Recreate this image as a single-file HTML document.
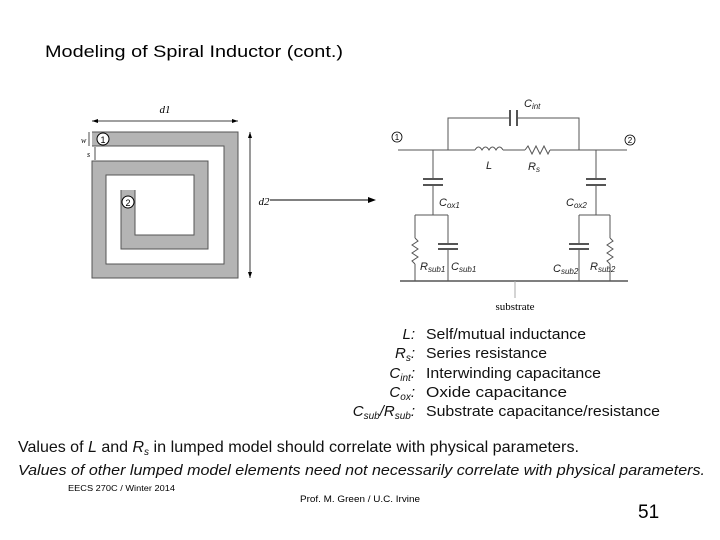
<!DOCTYPE html>
<html><head><style>body{margin:0;background:#fff}svg{display:block}</style></head><body>
<svg width="720" height="540" viewBox="0 0 720 540" xmlns="http://www.w3.org/2000/svg" font-family="Liberation Sans, sans-serif">
<text x="45" y="57" font-size="17" textLength="298" lengthAdjust="spacingAndGlyphs">Modeling of Spiral Inductor (cont.)</text>
<!-- spiral -->
<polyline points="92,139 231,139 231,271 99,271 99,168 201,168 201,242 128,242 128,190" fill="none" stroke="#555" stroke-width="15" stroke-linejoin="miter"/>
<polyline points="92,139 231,139 231,271 99,271 99,168 201,168 201,242 128,242 128,190" fill="none" stroke="#b4b4b4" stroke-width="13" stroke-linejoin="miter"/>
<circle cx="103" cy="139" r="6" fill="#fff" stroke="#000"/><text x="103" y="143" font-size="9" text-anchor="middle">1</text>
<circle cx="128" cy="202" r="6" fill="#fff" stroke="#000"/><text x="128" y="206" font-size="9" text-anchor="middle">2</text>
<line x1="92" y1="121" x2="238" y2="121" stroke="#000" stroke-width="0.8"/>
<polygon points="92,121 98,119 98,123" fill="#000"/><polygon points="238,121 232,119 232,123" fill="#000"/>
<text x="165" y="113" font-size="11" font-family="Liberation Serif, serif" font-style="italic" text-anchor="middle">d1</text>
<line x1="250" y1="132" x2="250" y2="278" stroke="#000" stroke-width="0.8"/>
<polygon points="250,132 248,138 252,138" fill="#000"/><polygon points="250,278 248,272 252,272" fill="#000"/>
<text x="264" y="205" font-size="11" font-family="Liberation Serif, serif" font-style="italic" text-anchor="middle">d2</text>
<line x1="89" y1="132" x2="89" y2="146" stroke="#000" stroke-width="0.7"/><text x="81" y="143" font-size="8" font-family="Liberation Serif, serif" font-style="italic">w</text>
<line x1="95" y1="147" x2="95" y2="160" stroke="#000" stroke-width="0.7"/><text x="87" y="157" font-size="8" font-family="Liberation Serif, serif" font-style="italic">s</text>
<!-- arrow -->
<line x1="270" y1="200" x2="370" y2="200" stroke="#000" stroke-width="1"/>
<polygon points="376,200 368,197 368,203" fill="#000"/>
<!-- circuit -->
<g stroke="#555" stroke-width="1" fill="none">
<line x1="398" y1="150" x2="475" y2="150"/>
<path d="M475,150 q3.5,-6 7,0 q3.5,-6 7,0 q3.5,-6 7,0 q3.5,-6 7,0"/>
<line x1="503" y1="150" x2="525" y2="150"/>
<polyline points="525,150 528,146 532,154 536,146 540,154 544,146 548,154 550,150"/>
<line x1="550" y1="150" x2="627" y2="150"/>
<polyline points="448,150 448,118 510,118"/><polyline points="517,118 579,118 579,150"/>
<line x1="510" y1="110" x2="510" y2="126" stroke-width="2"/><line x1="517" y1="110" x2="517" y2="126" stroke-width="2"/>
<line x1="433" y1="150" x2="433" y2="179"/><line x1="423" y1="179" x2="443" y2="179" stroke-width="2"/><line x1="423" y1="185" x2="443" y2="185" stroke-width="2"/>
<line x1="433" y1="185" x2="433" y2="215"/><line x1="415" y1="215" x2="448" y2="215"/>
<line x1="415" y1="215" x2="415" y2="238"/><polyline points="415,238 418,241 412,245 418,249 412,253 418,257 412,261 415,264"/><line x1="415" y1="264" x2="415" y2="281"/>
<line x1="448" y1="215" x2="448" y2="244"/><line x1="438" y1="244" x2="458" y2="244" stroke-width="2"/><line x1="438" y1="249" x2="458" y2="249" stroke-width="2"/><line x1="448" y1="249" x2="448" y2="281"/>
<line x1="596" y1="150" x2="596" y2="179"/><line x1="586" y1="179" x2="606" y2="179" stroke-width="2"/><line x1="586" y1="185" x2="606" y2="185" stroke-width="2"/>
<line x1="596" y1="185" x2="596" y2="215"/><line x1="579" y1="215" x2="610" y2="215"/>
<line x1="579" y1="215" x2="579" y2="244"/><line x1="569" y1="244" x2="589" y2="244" stroke-width="2"/><line x1="569" y1="249" x2="589" y2="249" stroke-width="2"/><line x1="579" y1="249" x2="579" y2="281"/>
<line x1="610" y1="215" x2="610" y2="238"/><polyline points="610,238 613,241 607,245 613,249 607,253 613,257 607,261 610,264"/><line x1="610" y1="264" x2="610" y2="281"/>
<line x1="400" y1="281" x2="628" y2="281" stroke-width="1.5"/>
<line x1="515" y1="281" x2="515" y2="298" stroke="#aaa"/>
</g>
<circle cx="397" cy="137" r="5" fill="#fff" stroke="#000" stroke-width="0.8"/><text x="397" y="140" font-size="8" text-anchor="middle">1</text>
<circle cx="630" cy="140" r="5" fill="#fff" stroke="#000" stroke-width="0.8"/><text x="630" y="143" font-size="8" text-anchor="middle">2</text>
<g font-size="11" font-style="italic" fill="#222">
<text x="524" y="107">C<tspan font-size="8" dy="2">int</tspan></text>
<text x="486" y="169">L</text>
<text x="528" y="170">R<tspan font-size="8" dy="2">s</tspan></text>
<text x="439" y="206">C<tspan font-size="8" dy="2">ox1</tspan></text>
<text x="566" y="206">C<tspan font-size="8" dy="2">ox2</tspan></text>
<text x="420" y="270">R<tspan font-size="8" dy="2">sub1</tspan></text>
<text x="451" y="270">C<tspan font-size="8" dy="2">sub1</tspan></text>
<text x="553" y="272">C<tspan font-size="8" dy="2">sub2</tspan></text>
<text x="590" y="270">R<tspan font-size="8" dy="2">sub2</tspan></text>
</g>
<text x="515" y="310" font-size="11" font-family="Liberation Serif, serif" text-anchor="middle">substrate</text>
<!-- legend -->
<g font-size="15" fill="#111">
<g font-style="italic" text-anchor="end">
<text x="415" y="339">L:</text>
<text x="415" y="358">R<tspan font-size="10" dy="3">s</tspan><tspan dy="-3">:</tspan></text>
<text x="415" y="378">C<tspan font-size="10" dy="3">int</tspan><tspan dy="-3">:</tspan></text>
<text x="415" y="397">C<tspan font-size="10" dy="3">ox</tspan><tspan dy="-3">:</tspan></text>
<text x="415" y="416">C<tspan font-size="10" dy="3">sub</tspan><tspan dy="-3">/R</tspan><tspan font-size="10" dy="3">sub</tspan><tspan dy="-3">:</tspan></text>
</g>
<text x="426" y="339" textLength="160" lengthAdjust="spacingAndGlyphs">Self/mutual inductance</text>
<text x="426" y="358" textLength="121" lengthAdjust="spacingAndGlyphs">Series resistance</text>
<text x="426" y="378" textLength="175" lengthAdjust="spacingAndGlyphs">Interwinding capacitance</text>
<text x="426" y="397" textLength="141" lengthAdjust="spacingAndGlyphs">Oxide capacitance</text>
<text x="426" y="416" textLength="234" lengthAdjust="spacingAndGlyphs">Substrate capacitance/resistance</text>
<text x="18" y="452" font-size="16">Values of <tspan font-style="italic">L</tspan> and <tspan font-style="italic">R</tspan><tspan font-size="10" dy="3" font-style="italic">s</tspan><tspan dy="-3" textLength="430" lengthAdjust="spacingAndGlyphs"> in lumped model should correlate with physical parameters.</tspan></text>
<text x="18" y="475" font-style="italic" textLength="687" lengthAdjust="spacingAndGlyphs">Values of other lumped model elements need not necessarily correlate with physical parameters.</text>
</g>
<text x="68" y="491" font-size="8" textLength="107" lengthAdjust="spacingAndGlyphs">EECS 270C / Winter 2014</text>
<text x="300" y="502" font-size="9" textLength="120" lengthAdjust="spacingAndGlyphs">Prof. M. Green / U.C. Irvine</text>
<text x="638" y="518" font-size="19">51</text>
</svg>
</body></html>
